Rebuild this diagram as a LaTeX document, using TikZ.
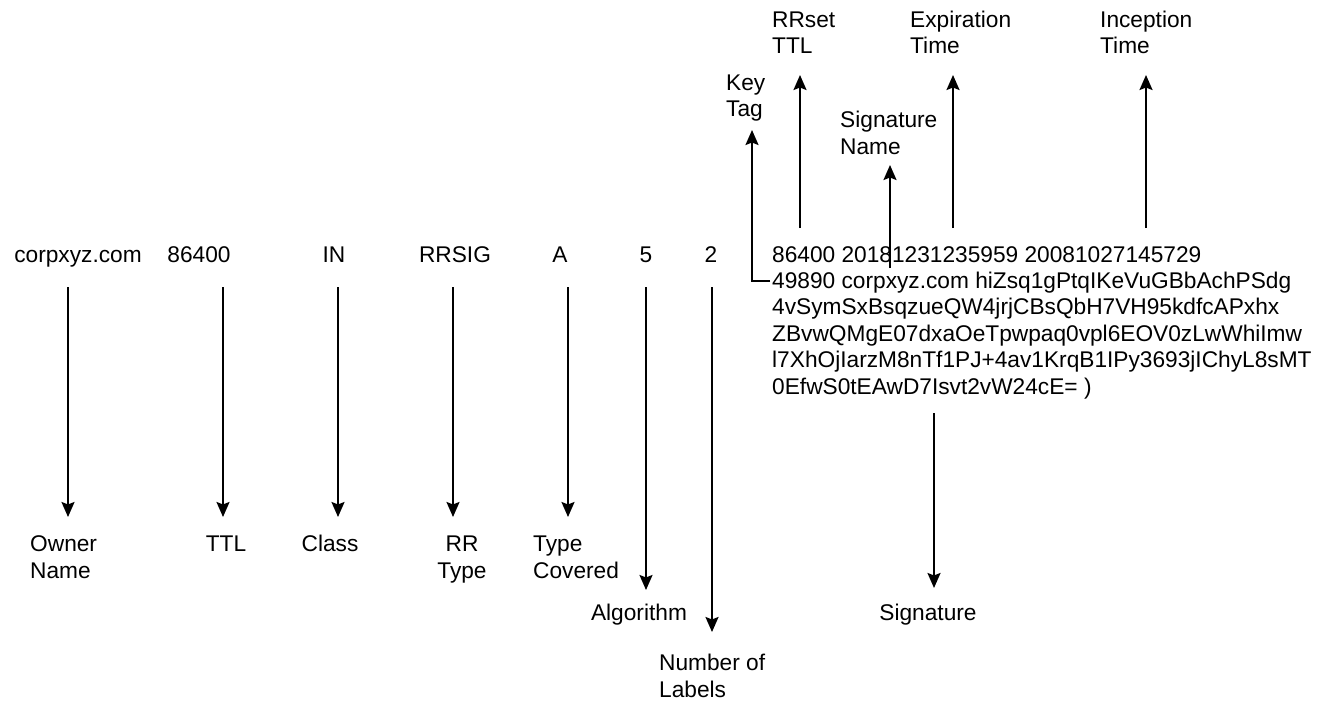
\documentclass[tikz,border=0pt]{standalone}
\usepackage{fontspec}
\setmainfont{Liberation Sans}
\usetikzlibrary{arrows.meta}
\begin{document}
\begin{tikzpicture}[x=1pt,y=-1pt,
  lbl/.style={inner sep=0pt, font=\fontsize{22.7}{26.4}\selectfont, align=left},
  clbl/.style={lbl, align=center},
  arr/.style={line width=2pt, -{Stealth[length=15pt,width=13pt,inset=2.5pt]}},
]
\useasboundingbox[fill=white] (0,0) rectangle (1326,701);

% record fields (anchor = baseline of last line)
\node[lbl,anchor=base] (own) at (78,262) {corpxyz.com};
\node[lbl,anchor=base] (ttl) at (199,262) {86400};
\node[lbl,anchor=base] (cls) at (334,262) {IN};
\node[lbl,anchor=base] (typ) at (455,262) {RRSIG};
\node[lbl,anchor=base] (cov) at (560,262) {A};
\node[lbl,anchor=base] (alg) at (646,262) {5};
\node[lbl,anchor=base] (lab) at (711,262) {2};
\node[lbl,anchor=base west] (sig) at (772,394) {86400 20181231235959 20081027145729\\
49890 corpxyz.com hiZsq1gPtqIKeVuGBbAchPSdg\\
4vSymSxBsqzueQW4jrjCBsQbH7VH95kdfcAPxhx\\
ZBvwQMgE07dxaOeTpwpaq0vpl6EOV0zLwWhiImw\\
l7XhOjIarzM8nTf1PJ+4av1KrqB1IPy3693jIChyL8sMT\\
0EfwS0tEAwD7Isvt2vW24cE= )};

% labels below
\node[lbl,anchor=base west] (ownL) at (30,578) {Owner\\Name};
\node[lbl,anchor=base] (ttlL) at (226,551) {TTL};
\node[lbl,anchor=base] (clsL) at (330,551) {Class};
\node[clbl,anchor=base] (typL) at (462,578) {RR\\Type};
\node[lbl,anchor=base west] (covL) at (533,578) {Type\\Covered};
\node[lbl,anchor=base] (algL) at (639,620) {Algorithm};
\node[lbl,anchor=base west] (labL) at (659,697) {Number of\\Labels};
\node[lbl,anchor=base] (sigL) at (928,620) {Signature};

% labels above
\node[lbl,anchor=base west] (rttlL) at (772,54) {RRset\\TTL};
\node[lbl,anchor=base west] (expL) at (910,54) {Expiration\\Time};
\node[lbl,anchor=base west] (incL) at (1100,54) {Inception\\Time};
\node[lbl,anchor=base west] (keyL) at (726,117) {Key\\Tag};
\node[lbl,anchor=base west] (snL) at (840,154) {Signature\\Name};

% connector end points
\foreach \n/\x/\e in {own/68/517, ttl/223/517, cls/338/517, typ/453/517, cov/568/517, alg/646/590, lab/712/632}{
  \coordinate (\n-s) at (\x,287);
  \coordinate (\n-e) at (\x,\e);
}
\coordinate (sig-s) at (934,413);
\coordinate (sig-e) at (934,588);
\coordinate (rttl-s) at (800,228);
\coordinate (rttl-e) at (800,75);
\coordinate (exp-s) at (953,228);
\coordinate (exp-e) at (953,75);
\coordinate (inc-s) at (1146,228);
\coordinate (inc-e) at (1146,75);
\coordinate (sn-s) at (890,268);
\coordinate (sn-e) at (890,165);
\coordinate (key-s) at (770,281);
\coordinate (key-c) at (752,281);
\coordinate (key-e) at (752,130);

\foreach \n in {own,ttl,cls,typ,cov,alg,lab,sig,rttl,exp,inc,sn}{
  \draw[arr] (\n-s) -- (\n-e);
}
\draw[arr] (key-s) -- (key-c) -- (key-e);
\end{tikzpicture}
\end{document}
